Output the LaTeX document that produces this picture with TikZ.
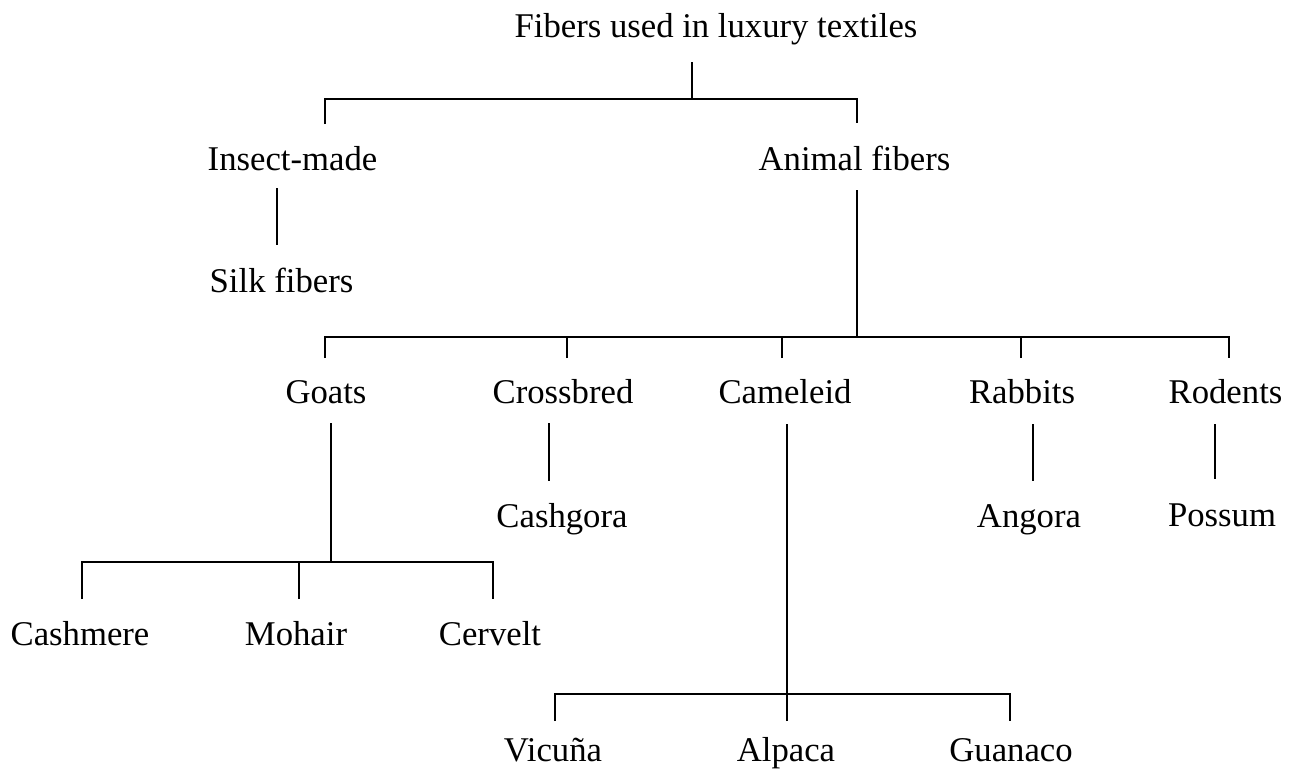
\documentclass[tikz,border=0pt]{standalone}
\usepackage{fontspec}
\setmainfont{Liberation Serif}
\begin{document}
\begin{tikzpicture}[x=1pt,y=-1pt,
  lab/.style={anchor=base,inner sep=0pt,font=\fontsize{34.7}{40}\selectfont},
  conn/.style={line width=2pt,line cap=butt,line join=miter}]
\useasboundingbox (0,0) rectangle (1289,771);
% labels
\node[lab] (root) at (716,37) {Fibers used in luxury textiles};
\node[lab] (insect) at (292.5,170.5) {Insect-made};
\node[lab] (animal) at (854.5,170.5) {Animal fibers};
\node[lab] (silk) at (281.5,292.5) {Silk fibers};
\node[lab] (goats) at (326,403) {Goats};
\node[lab] (cross) at (563,403) {Crossbred};
\node[lab] (camel) at (785,403) {Cameleid};
\node[lab] (rabbit) at (1022,403) {Rabbits};
\node[lab] (rodent) at (1225.5,403) {Rodents};
\node[lab] (cashgora) at (562,527) {Cashgora};
\node[lab] (angora) at (1029,527) {Angora};
\node[lab] (possum) at (1222,526) {Possum};
\node[lab] (cashmere) at (80,645) {Cashmere};
\node[lab] (mohair) at (296,645) {Mohair};
\node[lab] (cervelt) at (490,645) {Cervelt};
\node[lab] (vicuna) at (553,761) {Vicuña};
\node[lab] (alpaca) at (786,761) {Alpaca};
\node[lab] (guanaco) at (1011,761) {Guanaco};
% junction coordinates
\coordinate (rootTop) at (692,62);
\coordinate (rootJ) at (692,99);
\coordinate (busAL) at (325,99);
\coordinate (busAR) at (857,99);
\coordinate (insectTop) at (325,124);
\coordinate (animalTop) at (857,123);
\coordinate (insectBot) at (277,188);
\coordinate (silkTop) at (277,245);
\coordinate (animalBot) at (857,190);
\coordinate (animalJ) at (857,337);
\coordinate (busBL) at (325,337);
\coordinate (busBR) at (1229,337);
\coordinate (goatsTop) at (325,358);
\coordinate (crossTop) at (567,358);
\coordinate (camelTop) at (782,358);
\coordinate (rabbitTop) at (1021,358);
\coordinate (rodentTop) at (1229,358);
\coordinate (goatsBot) at (331,423);
\coordinate (goatsJ) at (331,562);
\coordinate (busCL) at (82,562);
\coordinate (busCR) at (493,562);
\coordinate (cashmereTop) at (82,599);
\coordinate (mohairTop) at (299,599);
\coordinate (cerveltTop) at (493,599);
\coordinate (crossBot) at (549,423);
\coordinate (cashgoraTop) at (549,481);
\coordinate (camelBot) at (787,424);
\coordinate (camelJ) at (787,694);
\coordinate (busDL) at (555,694);
\coordinate (busDR) at (1010,694);
\coordinate (vicunaTop) at (555,721);
\coordinate (alpacaTop) at (787,721);
\coordinate (guanacoTop) at (1010,721);
\coordinate (rabbitBot) at (1033,424);
\coordinate (angoraTop) at (1033,481);
\coordinate (rodentBot) at (1215,424);
\coordinate (possumTop) at (1215,479);
% connectors
\draw[conn] (rootTop) -- (rootJ);
\draw[conn] (insectTop) -- (busAL) -- (busAR) -- (animalTop);
\draw[conn] (insectBot) -- (silkTop);
\draw[conn] (animalBot) -- (animalJ);
\draw[conn] (goatsTop) -- (busBL) -- (busBR) -- (rodentTop);
\draw[conn] (crossTop) -- (crossTop |- busBL);
\draw[conn] (camelTop) -- (camelTop |- busBL);
\draw[conn] (rabbitTop) -- (rabbitTop |- busBL);
\draw[conn] (goatsBot) -- (goatsJ);
\draw[conn] (cashmereTop) -- (busCL) -- (busCR) -- (cerveltTop);
\draw[conn] (mohairTop) -- (mohairTop |- busCL);
\draw[conn] (crossBot) -- (cashgoraTop);
\draw[conn] (camelBot) -- (camelJ);
\draw[conn] (vicunaTop) -- (busDL) -- (busDR) -- (guanacoTop);
\draw[conn] (alpacaTop) -- (alpacaTop |- busDL);
\draw[conn] (rabbitBot) -- (angoraTop);
\draw[conn] (rodentBot) -- (possumTop);
\end{tikzpicture}
\end{document}
